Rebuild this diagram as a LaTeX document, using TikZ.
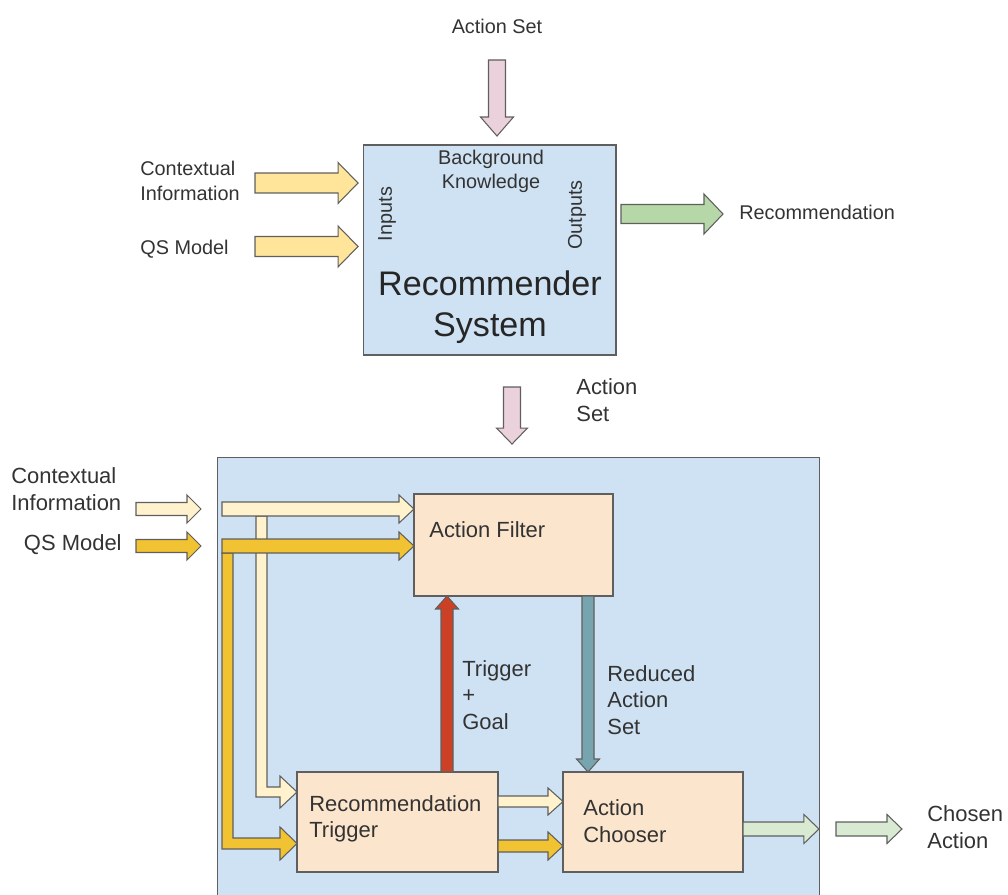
\documentclass[tikz,border=0pt]{standalone}
\usepackage{fontspec}
\setmainfont{Liberation Sans}
\usetikzlibrary{calc}

\definecolor{boxblue}{HTML}{CFE2F3}
\definecolor{peach}{HTML}{FCE5CD}
\definecolor{edgegray}{HTML}{5F5F5F}
\definecolor{inyellow}{HTML}{FFE599}
\definecolor{paleyellow}{HTML}{FFF2CC}
\definecolor{deepyellow}{HTML}{F1C232}
\definecolor{setpink}{HTML}{EAD1DC}
\definecolor{outgreen}{HTML}{B6D7A8}
\definecolor{palegreen}{HTML}{D9EAD3}
\definecolor{trigred}{HTML}{CC4125}
\definecolor{setteal}{HTML}{76A5AF}

% block arrow: fill, from, to, shaft half width, head half width, head length
\newcommand{\blockarrow}[6]{%
  \coordinate (ba-h) at ($#3!#6!#2$);
  \draw[arrowline, fill=#1] ($#2!#4!90:#3$) -- ($(ba-h)!#4!-90:#2$) -- ($(ba-h)!#5!-90:#2$)
    -- #3 -- ($(ba-h)!#5!90:#2$) -- ($(ba-h)!#4!90:#2$) -- ($#2!#4!-90:#3$) -- cycle;
}

\begin{document}
\begin{tikzpicture}[x=0.02cm, y=-0.02cm,
    box/.style={draw=edgegray, line width=0.6pt, inner sep=0pt, outer sep=0pt},
    arrowline/.style={draw=edgegray, line width=0.6pt, line join=miter},
    lbl/.style={font=\fontsize{11.3}{13.8}\selectfont, inner sep=0pt, text=black!80},
    lblb/.style={font=\fontsize{12.5}{15}\selectfont, inner sep=0pt, text=black!80},
    biglbl/.style={font=\fontsize{19.4}{23.4}\selectfont, inner sep=0pt, text=black!85}]
  \useasboundingbox (0,0) rectangle (1008,895);

  % upper diagram
  \node[lbl] (actsetA) at (497,26) {Action Set};
  \node[box, fill=boxblue, minimum width=5.06cm, minimum height=4.2cm] (rs) at (489.5,250) {};
  \node[lbl, align=center] (bgk) at (491,171) {Background\\Knowledge};
  \node[lbl, rotate=90] (inputs) at (387,214) {Inputs};
  \node[lbl, rotate=90] (outputs) at (577,215) {Outputs};
  \node[biglbl, align=center] (rstext) at (490,307) {Recommender\\System};
  \node[lbl, align=left, anchor=west] (ctxA) at (140,181) {Contextual\\Information};
  \node[lbl, anchor=west] (qsA) at (140,249) {QS Model};
  \node[lbl, anchor=west] (recA) at (739,212) {Recommendation};

  \coordinate (ctxAs) at (255,183);
  \coordinate (qsAs) at (255,246.5);
  \coordinate (setAs) at (497,60);
  \coordinate (recAs) at (621,214);
  \blockarrow{setpink}{(setAs)}{($(rs.north)+(7.5,-9)$)}{1.7mm}{3.3mm}{3.8mm}
  \blockarrow{inyellow}{(ctxAs)}{($(rs.west |- ctxAs)+(-5,0)$)}{2mm}{4.1mm}{4mm}
  \blockarrow{inyellow}{(qsAs)}{($(rs.west |- qsAs)+(-5,0)$)}{2mm}{4.1mm}{4mm}
  \blockarrow{outgreen}{(recAs)}{($(recA.west |- recAs)+(-16,0)$)}{1.9mm}{4mm}{3.8mm}

  % lower diagram
  \node[lblb, align=left, anchor=west] (actsetB) at (576,400) {Action\\Set};
  \node[box, fill=boxblue, minimum width=12.06cm, minimum height=8.96cm] (sys) at (518.5,681) {};
  \coordinate (setBs) at (512,387);
  \blockarrow{setpink}{(setBs)}{($(sys.north -| setBs)+(0,-13)$)}{1.7mm}{3.1mm}{3.2mm}

  \node[box, fill=peach, minimum width=3.98cm, minimum height=2.04cm] (filter) at (513.5,545) {};
  \node[box, fill=peach, minimum width=4.02cm, minimum height=2cm] (trigger) at (397.5,822) {};
  \node[box, fill=peach, minimum width=3.6cm, minimum height=2cm] (chooser) at (653,822) {};
  \node[lblb, anchor=west] (filtertext) at (429,530) {Action Filter};
  \node[lblb, align=left, anchor=west] (triggertext) at (309,819) {Recommendation\\Trigger};
  \node[lblb, align=left, anchor=west] (choosertext) at (583,821) {Action\\Chooser};

  \node[lblb, align=left, anchor=west] (ctxB) at (11,489) {Contextual\\Information};
  \node[lblb, anchor=east] (qsB) at (122,545) {QS Model};
  \node[lblb, align=left, anchor=west] (chosen) at (927,827) {Chosen\\Action};
  \node[lblb, align=left, anchor=west] (tgoal) at (462,695) {Trigger\\+\\Goal};
  \node[lblb, align=left, anchor=west] (reduced) at (607,700) {Reduced\\Action\\Set};

  \coordinate (ctxBs) at (136,509);
  \coordinate (qsBs) at (136,546);
  \coordinate (ctxin) at (222,509);
  \coordinate (qsin) at (222,546);
  \blockarrow{paleyellow}{(ctxBs)}{(201,509)}{1.3mm}{2.8mm}{2.8mm}
  \blockarrow{deepyellow}{(qsBs)}{(201,546)}{1.3mm}{2.8mm}{2.8mm}

  % branches down to the trigger
  \draw[arrowline, fill=paleyellow] (256,516) -- (256,797) -- (280,797) -- (280,808)
    -- (trigger.west |- 0,792) -- (280,776) -- (280,787) -- (267,787) -- (267,516) -- cycle;
  \blockarrow{paleyellow}{(ctxin)}{(filter.west |- ctxin)}{1.4mm}{2.8mm}{3mm}
  \draw[arrowline, fill=deepyellow] (222,553) -- (222,849) -- (280,849) -- (280,860)
    -- (trigger.west |- 0,843.5) -- (280,827) -- (280,838) -- (233,838) -- (233,553) -- cycle;
  \blockarrow{deepyellow}{(qsin)}{(filter.west |- qsin)}{1.4mm}{2.8mm}{3mm}

  \blockarrow{trigred}{(trigger.north -| 447,0)}{(filter.south -| 447,0)}{1.2mm}{2.3mm}{2.6mm}
  \blockarrow{setteal}{(filter.south -| 588,0)}{(chooser.north -| 588,0)}{1.2mm}{2.3mm}{2.6mm}
  \blockarrow{paleyellow}{(trigger.east |- 0,801.5)}{(chooser.west |- 0,801.5)}{1.1mm}{2.7mm}{3mm}
  \blockarrow{deepyellow}{(trigger.east |- 0,846)}{(chooser.west |- 0,846)}{1.2mm}{2.8mm}{3mm}
  \blockarrow{palegreen}{(chooser.east |- 0,829)}{($(sys.east |- 0,829)+(-1,0)$)}{1.4mm}{2.9mm}{3mm}
  \blockarrow{palegreen}{(836,829)}{($(chosen.west |- 0,829)+(-25,0)$)}{1.4mm}{2.9mm}{3mm}
\end{tikzpicture}
\end{document}
